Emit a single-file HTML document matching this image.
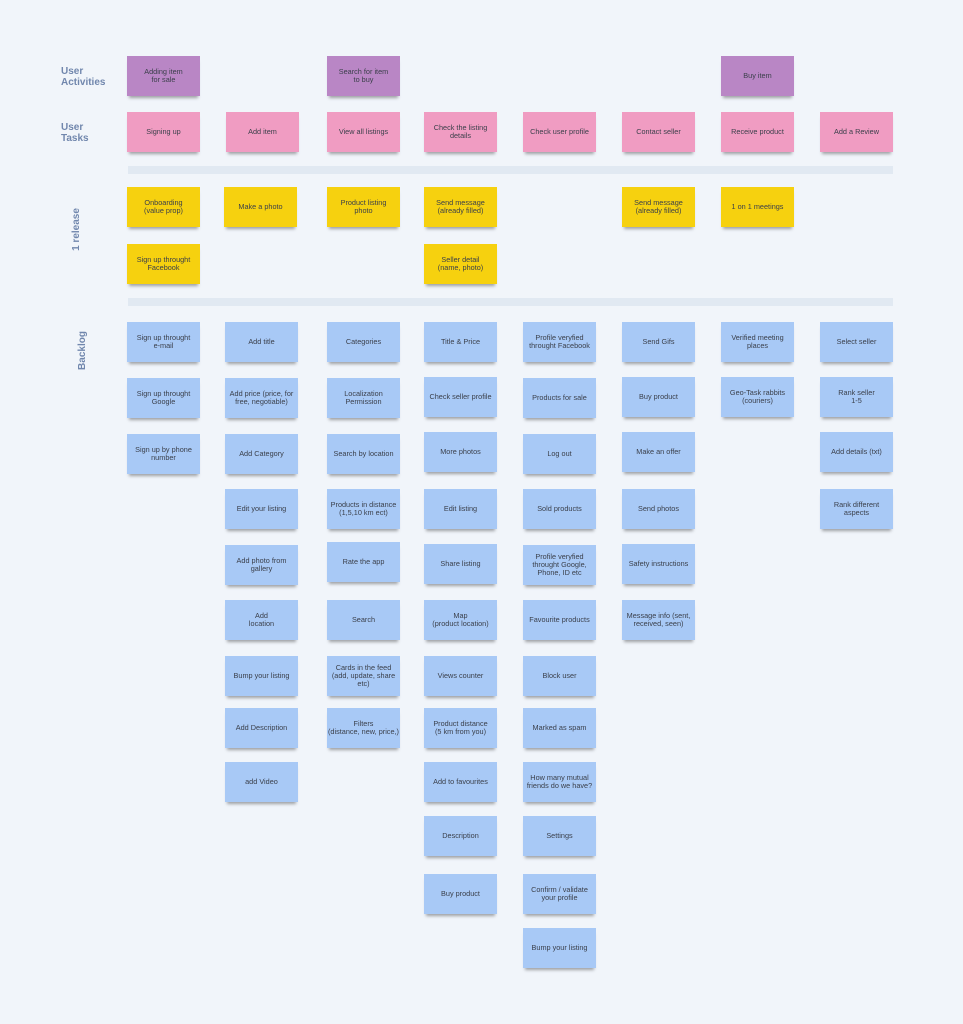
<!DOCTYPE html>
<html><head><style>
body{margin:0;width:963px;height:1024px;background:#f1f5fa;position:relative;overflow:hidden;font-family:"Liberation Sans",sans-serif}
.n{position:absolute;width:73px;height:40px;display:flex;align-items:center;justify-content:center;text-align:center;font-size:7.3px;line-height:8px;color:#3a3f4a;box-shadow:0 4px 3px -2px rgba(0,0,0,.35)}
.p{background:#b986c5}.k{background:#f09cc2}.y{background:#f6d10f}.b{background:#a8c9f6}
.l{position:absolute;color:#7187ad;font-weight:bold;font-size:10px;line-height:11px}
.r{position:absolute;color:#7187ad;font-weight:bold;font-size:10px;transform:rotate(-90deg);transform-origin:center;white-space:nowrap}
.d{position:absolute;left:128px;width:765px;height:8px;background:#e1e9f2}
</style></head><body>
<div class="l" style="left:61px;top:66px">User<br>Activities</div>
<div class="l" style="left:61px;top:122px">User<br>Tasks</div>
<div class="r" style="left:55px;top:224px">1 release</div>
<div class="r" style="left:63px;top:345px">Backlog</div>
<div class="d" style="top:166px"></div>
<div class="d" style="top:298px"></div>

<div class="n p" style="left:127px;top:56px">Adding item<br>for sale</div>
<div class="n p" style="left:327px;top:56px">Search for item<br>to buy</div>
<div class="n p" style="left:721px;top:56px">Buy item</div>

<div class="n k" style="left:127px;top:112px">Signing up</div>
<div class="n k" style="left:226px;top:112px">Add item</div>
<div class="n k" style="left:327px;top:112px">View all listings</div>
<div class="n k" style="left:424px;top:112px">Check the listing<br>details</div>
<div class="n k" style="left:523px;top:112px">Check user profile</div>
<div class="n k" style="left:622px;top:112px">Contact seller</div>
<div class="n k" style="left:721px;top:112px">Receive product</div>
<div class="n k" style="left:820px;top:112px">Add a Review</div>

<div class="n y" style="left:127px;top:187px">Onboarding<br>(value prop)</div>
<div class="n y" style="left:224px;top:187px">Make a photo</div>
<div class="n y" style="left:327px;top:187px">Product listing<br>photo</div>
<div class="n y" style="left:424px;top:187px">Send message<br>(already filled)</div>
<div class="n y" style="left:622px;top:187px">Send message<br>(already filled)</div>
<div class="n y" style="left:721px;top:187px">1 on 1 meetings</div>
<div class="n y" style="left:127px;top:244px">Sign up throught<br>Facebook</div>
<div class="n y" style="left:424px;top:244px">Seller detail<br>(name, photo)</div>

<div class="n b" style="left:127px;top:322px">Sign up throught<br>e-mail</div>
<div class="n b" style="left:127px;top:378px">Sign up throught<br>Google</div>
<div class="n b" style="left:127px;top:434px">Sign up by phone<br>number</div>

<div class="n b" style="left:225px;top:322px">Add title</div>
<div class="n b" style="left:225px;top:378px">Add price (price, for<br>free, negotiable)</div>
<div class="n b" style="left:225px;top:434px">Add Category</div>
<div class="n b" style="left:225px;top:489px">Edit your listing</div>
<div class="n b" style="left:225px;top:545px">Add photo from<br>gallery</div>
<div class="n b" style="left:225px;top:600px">Add<br>location</div>
<div class="n b" style="left:225px;top:656px">Bump your listing</div>
<div class="n b" style="left:225px;top:708px">Add Description</div>
<div class="n b" style="left:225px;top:762px">add Video</div>

<div class="n b" style="left:327px;top:322px">Categories</div>
<div class="n b" style="left:327px;top:378px">Localization<br>Permission</div>
<div class="n b" style="left:327px;top:434px">Search by location</div>
<div class="n b" style="left:327px;top:489px">Products in distance<br>(1,5,10 km ect)</div>
<div class="n b" style="left:327px;top:542px">Rate the app</div>
<div class="n b" style="left:327px;top:600px">Search</div>
<div class="n b" style="left:327px;top:656px">Cards in the feed<br>(add, update, share<br>etc)</div>
<div class="n b" style="left:327px;top:708px">Filters<br>(distance, new, price,)</div>

<div class="n b" style="left:424px;top:322px">Title &amp; Price</div>
<div class="n b" style="left:424px;top:377px">Check seller profile</div>
<div class="n b" style="left:424px;top:432px">More photos</div>
<div class="n b" style="left:424px;top:489px">Edit listing</div>
<div class="n b" style="left:424px;top:544px">Share listing</div>
<div class="n b" style="left:424px;top:600px">Map<br>(product location)</div>
<div class="n b" style="left:424px;top:656px">Views counter</div>
<div class="n b" style="left:424px;top:708px">Product distance<br>(5 km from you)</div>
<div class="n b" style="left:424px;top:762px">Add to favourites</div>
<div class="n b" style="left:424px;top:816px">Description</div>
<div class="n b" style="left:424px;top:874px">Buy product</div>

<div class="n b" style="left:523px;top:322px">Profile veryfied<br>throught Facebook</div>
<div class="n b" style="left:523px;top:378px">Products for sale</div>
<div class="n b" style="left:523px;top:434px">Log out</div>
<div class="n b" style="left:523px;top:489px">Sold products</div>
<div class="n b" style="left:523px;top:545px">Profile veryfied<br>throught Google,<br>Phone, ID etc</div>
<div class="n b" style="left:523px;top:600px">Favourite products</div>
<div class="n b" style="left:523px;top:656px">Block user</div>
<div class="n b" style="left:523px;top:708px">Marked as spam</div>
<div class="n b" style="left:523px;top:762px">How many mutual<br>friends do we have?</div>
<div class="n b" style="left:523px;top:816px">Settings</div>
<div class="n b" style="left:523px;top:874px">Confirm / validate<br>your profile</div>
<div class="n b" style="left:523px;top:928px">Bump your listing</div>

<div class="n b" style="left:622px;top:322px">Send Gifs</div>
<div class="n b" style="left:622px;top:377px">Buy product</div>
<div class="n b" style="left:622px;top:432px">Make an offer</div>
<div class="n b" style="left:622px;top:489px">Send photos</div>
<div class="n b" style="left:622px;top:544px">Safety instructions</div>
<div class="n b" style="left:622px;top:600px">Message info (sent,<br>received, seen)</div>

<div class="n b" style="left:721px;top:322px">Verified meeting<br>places</div>
<div class="n b" style="left:721px;top:377px">Geo-Task rabbits<br>(couriers)</div>

<div class="n b" style="left:820px;top:322px">Select seller</div>
<div class="n b" style="left:820px;top:377px">Rank seller<br>1-5</div>
<div class="n b" style="left:820px;top:432px">Add details (txt)</div>
<div class="n b" style="left:820px;top:489px">Rank different<br>aspects</div>
</body></html>
